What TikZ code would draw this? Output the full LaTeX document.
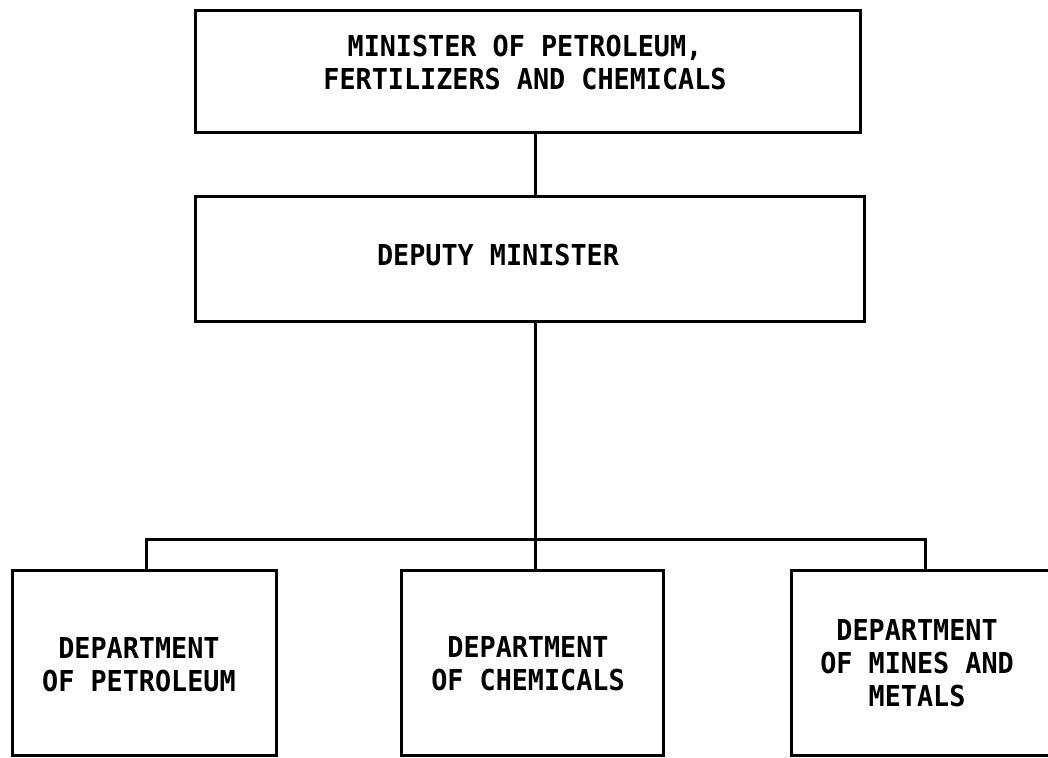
\documentclass[tikz,border=0pt]{standalone}
\usepackage{fontspec}
\newfontfamily\chartfont[FakeStretch=0.93]{DejaVu Sans Mono}
\begin{document}
\begin{tikzpicture}[x=1pt,y=-1pt,
  box/.style={draw, line width=3pt, rectangle, inner sep=0pt, outer sep=0pt, anchor=north west},
  lbl/.style={font=\chartfont\bfseries\fontsize{28.8}{33}\selectfont, align=center, inner sep=0pt},
  wire/.style={line width=3pt}]
\fill[white] (0,0) rectangle (1048,757);
\useasboundingbox (0,0) rectangle (1048,757);
% boxes
\node[box, minimum width=665pt, minimum height=121pt] (top) at (195,11) {};
\node[box, minimum width=669pt, minimum height=125pt] (dep) at (195,196) {};
\node[box, minimum width=264pt, minimum height=185pt] (pet) at (12,570) {};
\node[box, minimum width=262pt, minimum height=185pt] (chem) at (401,570) {};
\node[box, minimum width=261pt, minimum height=185pt] (mines) at (791,570) {};
% labels
\node[lbl] (ttop) at (525,62.5) {MINISTER OF PETROLEUM,\\FERTILIZERS AND CHEMICALS};
\node[lbl] (tdep) at (498,255) {DEPUTY MINISTER};
\node[lbl] (tpet) at (139,665) {DEPARTMENT\\OF PETROLEUM};
\node[lbl] (tchem) at (528,663.5) {DEPARTMENT\\OF CHEMICALS};
\node[lbl] (tmines) at (917,663.5) {DEPARTMENT\\OF MINES AND\\METALS};
% connectors
\coordinate (j) at (535,539);
\coordinate (jl) at (146,539);
\coordinate (jr) at (925,539);
\draw[wire] (j |- top.south) -- (j |- dep.north);
\draw[wire] (j |- dep.south) -- (j |- chem.north);
\draw[wire] (jl |- pet.north) -- (jl) -- (jr) -- (jr |- mines.north);
\end{tikzpicture}
\end{document}
